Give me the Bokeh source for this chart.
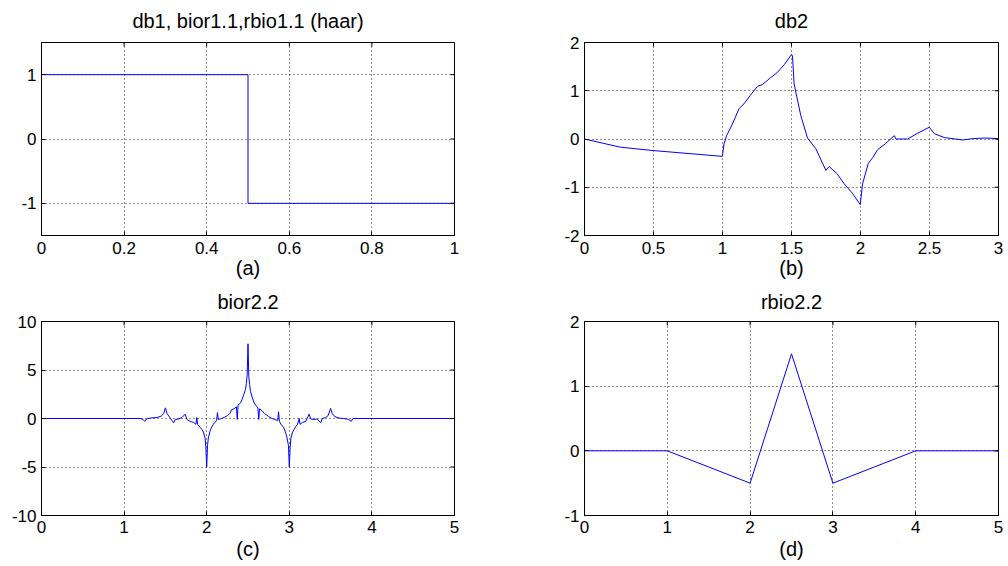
import math
from bokeh.plotting import figure
from bokeh.layouts import column, row
from bokeh.models import FixedTicker, Range1d
from bokeh.embed import file_html
from bokeh.resources import INLINE

# ---------------- data ----------------
haar_x = [0.0, 0.5, 0.5, 1.0]
haar_y = [1.0, 1.0, -1.0, -1.0]

db2_x = [0.0, 0.26, 0.5, 0.75, 0.999, 1.011, 1.03, 1.072, 1.12, 1.156, 1.2, 1.253, 1.29,
         1.34, 1.398, 1.45, 1.5, 1.507, 1.519, 1.567, 1.616, 1.676, 1.749, 1.773, 1.83,
         1.882, 1.94, 1.998, 2.015, 2.056, 2.09, 2.124, 2.18, 2.245, 2.257, 2.342, 2.414,
         2.499, 2.535, 2.607, 2.74, 2.82, 2.9, 3.0]
db2_y = [0.0, -0.17, -0.24, -0.3, -0.36, -0.1, 0.07, 0.31, 0.63, 0.73, 0.9, 1.09, 1.13,
         1.25, 1.38, 1.55, 1.75, 1.73, 1.14, 0.49, 0.02, -0.2, -0.65, -0.57, -0.72,
         -0.93, -1.12, -1.36, -0.93, -0.51, -0.38, -0.22, -0.1, 0.07, 0.0, 0.0, 0.12,
         0.245, 0.11, 0.03, -0.02, 0.01, 0.02, 0.01]

bior_x = [0.0, 1.2, 1.23, 1.25, 1.27, 1.32, 1.4, 1.45, 1.48, 1.5, 1.52, 1.55, 1.58, 1.6,
          1.62, 1.66, 1.7, 1.74, 1.76, 1.8, 1.84, 1.87, 1.88, 1.89, 1.92, 1.94, 1.96,
          1.98, 1.99, 2.0, 2.01, 2.02, 2.04, 2.06, 2.08, 2.1, 2.12, 2.13, 2.14, 2.18,
          2.22, 2.25, 2.28, 2.3, 2.33, 2.36, 2.37, 2.38, 2.41, 2.43, 2.45, 2.47, 2.48,
          2.49, 2.5, 2.51, 2.52, 2.53, 2.55, 2.57, 2.59, 2.62, 2.63, 2.64, 2.67, 2.7,
          2.72, 2.75, 2.78, 2.82, 2.86, 2.87, 2.88, 2.9, 2.93, 2.95, 2.97, 2.99, 3.0,
          3.01, 3.02, 3.04, 3.06, 3.08, 3.1, 3.12, 3.13, 3.16, 3.2, 3.24, 3.26, 3.3,
          3.34, 3.38, 3.4, 3.44, 3.47, 3.5, 3.52, 3.55, 3.6, 3.66, 3.72, 3.75, 3.77, 5.0]
bior_y = [0.0, 0.0, -0.1, -0.3, -0.05, 0.05, 0.1, 0.25, 0.5, 1.1, 0.5, 0.15, -0.2, -0.45,
          -0.1, -0.05, 0.1, 0.45, -0.1, -0.3, -0.4, -0.6, 0.1, -0.6, -0.9, -1.1, -1.4,
          -2.0, -3.0, -5.0, -2.8, -2.0, -1.3, -0.9, -0.6, -0.4, -0.2, 0.6, -0.1, 0.0,
          0.15, 0.3, 0.5, 0.9, 1.0, 1.2, -0.1, 1.4, 1.6, 2.0, 2.5, 3.0, 3.6,
          4.5, 7.7, 4.3, 3.5, 2.8, 2.2, 1.7, 1.4, 1.1, -0.1, 1.0, 0.8, 0.5,
          0.4, 0.2, 0.05, -0.1, -0.2, 0.7, -0.3, -0.6, -0.9, -1.3, -1.9, -2.8, -5.0,
          -3.0, -2.0, -1.4, -1.1, -0.8, -0.6, 0.0, -0.6, -0.4, -0.3, 0.45, -0.05, -0.1,
          -0.05, -0.45, 0.0, 0.1, 0.3, 1.05, 0.5, 0.2, 0.05, 0.0, -0.1, -0.3, 0.0, 0.0]

rbio_x = [0, 1, 2, 2.5, 3, 4, 5]
rbio_y = [0, 0, -0.5, 1.5, -0.5, 0, 0]

titles = ["db1, bior1.1,rbio1.1 (haar)", "db2", "bior2.2", "rbio2.2"]
sublabels = ["(a)", "(b)", "(c)", "(d)"]

a_xticks = [0, 0.2, 0.4, 0.6, 0.8, 1]
a_xlabels = ["0", "0.2", "0.4", "0.6", "0.8", "1"]
a_yticks = [-1, 0, 1]
b_xticks = [0, 0.5, 1, 1.5, 2, 2.5, 3]
b_xlabels = ["0", "0.5", "1", "1.5", "2", "2.5", "3"]
b_yticks = [-2, -1, 0, 1, 2]
c_xticks = [0, 1, 2, 3, 4, 5]
c_yticks = [-10, -5, 0, 5, 10]
d_xticks = [0, 1, 2, 3, 4, 5]
d_yticks = [-1, 0, 1, 2]

FONT = "Liberation Sans"
TICK_FS = "17px"
TITLE_FS = "20px"


def style_axis(ax, ticks, labels, standoff):
    ax.ticker = FixedTicker(ticks=ticks)
    ax.major_label_overrides = {t: l for t, l in zip(ticks, labels)}
    ax.axis_line_color = "black"
    ax.major_tick_line_color = "black"
    ax.major_tick_in = 4
    ax.major_tick_out = 0
    ax.minor_tick_line_color = None
    ax.major_label_text_font = FONT
    ax.major_label_text_color = "black"
    ax.major_label_text_font_size = TICK_FS
    ax.major_label_standoff = standoff


def panel(title, sub, xs, ys, xr, yr, xticks, xlabels, yticks, borders, frame_h,
          title_standoff, tick_standoff, label_standoff):
    left, right, top, bottom = borders
    p = figure(width=504, height=top + bottom + frame_h,
               output_backend="svg", toolbar_location=None,
               x_range=Range1d(*xr), y_range=Range1d(*yr),
               min_border_left=left, min_border_right=right,
               min_border_top=top, min_border_bottom=bottom)
    p.background_fill_color = "white"
    p.border_fill_color = "white"
    p.outline_line_color = "black"
    p.outline_line_alpha = 1.0
    p.outline_line_width = 1

    p.title.text = title
    p.title.align = "center"
    p.title.vertical_align = "top"
    p.title.text_font = FONT
    p.title.text_font_size = TITLE_FS
    p.title.text_font_style = "normal"
    p.title.text_color = "black"
    p.title.standoff = title_standoff

    ylabels = [str(t) for t in yticks]
    style_axis(p.below[0], xticks, xlabels, tick_standoff)
    style_axis(p.left[0], yticks, ylabels, 5)
    bx = p.below[0]
    bx.axis_label = sub
    bx.axis_label_text_font = FONT
    bx.axis_label_text_font_size = TITLE_FS
    bx.axis_label_text_font_style = "normal"
    bx.axis_label_text_color = "black"
    bx.axis_label_standoff = label_standoff

    for g, t in ((p.xgrid[0], xticks), (p.ygrid[0], yticks)):
        g.ticker = FixedTicker(ticks=t)
        g.grid_line_color = "#222222"
        g.grid_line_dash = "1 3"
        g.grid_line_width = 1

    p.line(xs, ys, line_color="#0000FF", line_width=1)

    # inward tick marks on the right and top edges of the box
    p.scatter([xr[1]] * len(yticks), yticks, marker="dash", size=8,
              line_color="black", line_width=1)
    p.scatter(xticks, [yr[1]] * len(xticks), marker="dash", size=8, angle=math.pi / 2,
              line_color="black", line_width=1)
    return p


pa = panel(titles[0], sublabels[0], haar_x, haar_y, (0, 1), (-1.5, 1.5),
           a_xticks, a_xlabels, a_yticks, (41, 50, 42, 48), 193, 17, 6, 0)
pb = panel(titles[1], sublabels[1], db2_x, db2_y, (0, 3), (-2, 2),
           b_xticks, b_xlabels, b_yticks, (80, 10, 42, 48), 193, 17, 6, 0)
pc = panel(titles[2], sublabels[2], bior_x, bior_y, (0, 5), (-10, 10),
           c_xticks, [str(t) for t in c_xticks], c_yticks, (41, 50, 38, 51), 194, 13, 5, 2)
pd = panel(titles[3], sublabels[3], rbio_x, rbio_y, (0, 5), (-1, 2),
           d_xticks, [str(t) for t in d_xticks], d_yticks, (80, 10, 38, 51), 194, 13, 5, 2)

layout = column(row(pa, pb), row(pc, pd))
open("out.html", "w").write(file_html(layout, INLINE))
